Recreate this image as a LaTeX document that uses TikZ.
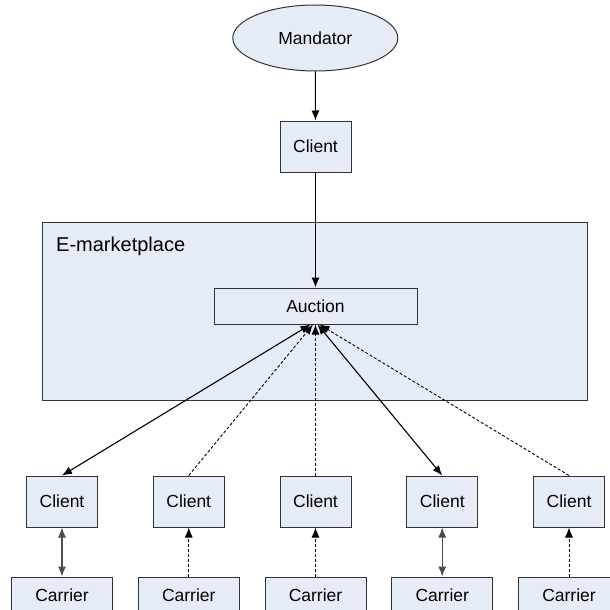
\documentclass[tikz,border=0pt]{standalone}
\usepackage{fontspec}
\setmainfont{Liberation Sans}
\usetikzlibrary{arrows.meta,shapes.geometric}
\definecolor{boxfill}{HTML}{E6ECF7}
\definecolor{boxline}{HTML}{333333}
\begin{document}
\begin{tikzpicture}[x=1pt,y=-1pt,
  box/.style={draw=boxline,fill=boxfill,line width=1pt,rectangle,inner sep=0pt,font=\fontsize{17.5}{20}\selectfont},
  clientbox/.style={box,minimum width=71pt,minimum height=51pt},
  carrierbox/.style={box,minimum width=101pt,minimum height=36pt},
  conn/.style={line width=1.1pt,black},
  onetip/.style={-{Latex[length=10pt,width=8pt]}},
  twotip/.style={{Latex[length=10pt,width=8pt]}-{Latex[length=10pt,width=8pt]}},
  dashline/.style={line width=0.9pt,dash pattern=on 3pt off 2pt}
]
\useasboundingbox (0,0) rectangle (610,610);
% E-marketplace
\node[draw=boxline,fill=boxfill,line width=1pt,rectangle,inner sep=0pt,minimum width=545pt,minimum height=177.3pt] (em) at (315.2,311.35) {};
\node[anchor=base west,inner sep=0pt,font=\fontsize{20}{23}\selectfont] (emlabel) at (56,251) {E-marketplace};
% top
\node[ellipse,draw=boxline,fill=boxfill,line width=1pt,inner sep=0pt,minimum width=165pt,minimum height=66pt,font=\fontsize{17.5}{20}\selectfont] (m) at (315.3,38) {Mandator};
\node[clientbox] (c0) at (315.5,146.5) {Client};
\node[box,minimum width=203pt,minimum height=36pt] (auc) at (315.5,306) {Auction};
% bottom
\foreach \i/\x in {1/62,2/188.75,3/315.5,4/442.25,5/569}{
  \node[clientbox] (cl\i) at (\x,501.5) {Client};
  \node[carrierbox] (ca\i) at (\x,595) {Carrier};
}
\coordinate (p1) at ([xshift=-5pt]auc.south);
\coordinate (p2) at ([xshift=-2.5pt]auc.south);
\coordinate (p3) at (auc.south);
\coordinate (p4) at ([xshift=2pt]auc.south);
\coordinate (p5) at ([xshift=4pt]auc.south);
\draw[conn,onetip] (m) -- (c0);
\draw[conn,onetip] (c0) -- (auc);
\draw[conn,twotip] (p1) -- (cl1.north);
\draw[conn,dashline,onetip] (cl2.north) -- (p2);
\draw[conn,dashline,onetip] (cl3.north) -- (p3);
\draw[conn,twotip] (p4) -- (cl4.north);
\draw[conn,dashline,onetip] (cl5.north) -- (p5);
\draw[conn,twotip,draw=black!70,fill=black] (cl1.south) -- (ca1.north);
\draw[conn,dashline,onetip] (ca2.north) -- (cl2.south);
\draw[conn,dashline,onetip] (ca3.north) -- (cl3.south);
\draw[conn,twotip,draw=black!70,fill=black] (cl4.south) -- (ca4.north);
\draw[conn,dashline,onetip] (ca5.north) -- (cl5.south);
\end{tikzpicture}
\end{document}
